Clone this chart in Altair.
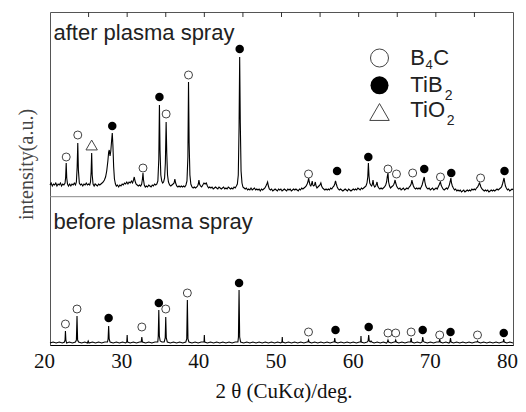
import altair as alt
import pandas as pd

# ---------------- data ----------------
# (2theta [deg], intensity [a.u.] above each pattern's own baseline)
AFTER = [
    (20.0, 2), (20.15, 4), (20.3, 1), (20.45, 3), (20.6, 2), (20.75, 4), (20.9, 1), (21.05, 3), (21.2, 2),
    (21.35, 4), (21.5, 1), (21.65, 3), (21.8, 2), (21.95, 4),
    (22.03, 10), (22.1, 24), (22.17, 9), (22.27, 3), (22.4, 1), (22.55, 3), (22.7, 1), (22.85, 3), (23.0, 2),
    (23.15, 4), (23.3, 2), (23.42, 5),
    (23.52, 20), (23.6, 44), (23.68, 17), (23.8, 4), (23.95, 2), (24.1, 3), (24.25, 1), (24.4, 3), (24.55, 2),
    (24.7, 4), (24.85, 2), (25.0, 3), (25.15, 2), (25.25, 5),
    (25.33, 15), (25.4, 34), (25.47, 12), (25.58, 3), (25.72, 1), (25.85, 3), (26.0, 2), (26.15, 1), (26.3, 3),
    (26.45, 2), (26.6, 3), (26.75, 4), (26.9, 5), (27.05, 7), (27.2, 10), (27.35, 16), (27.5, 26), (27.6, 35),
    (27.68, 37), (27.78, 31), (27.88, 36), (27.98, 46), (28.07, 54), (28.15, 42), (28.25, 20), (28.35, 8),
    (28.48, 3), (28.6, 1), (28.75, 2), (28.9, 0), (29.05, 2), (29.2, 1), (29.35, 3), (29.5, 2), (29.65, 4),
    (29.8, 3), (29.95, 5), (30.1, 3), (30.25, 5), (30.4, 4), (30.55, 6), (30.7, 4), (30.82, 7), (30.92, 10),
    (31.02, 6), (31.15, 3), (31.3, 2), (31.45, 1), (31.6, 2), (31.75, 1), (31.88, 3),
    (31.98, 8), (32.05, 14), (32.12, 7), (32.22, 2), (32.35, 0), (32.5, 1), (32.65, 0), (32.8, 2), (32.95, 1),
    (33.1, 0), (33.25, 2), (33.4, 1), (33.55, 3), (33.7, 2), (33.85, 3), (33.98, 6),
    (34.1, 28), (34.18, 82), (34.26, 36), (34.36, 12), (34.48, 6), (34.6, 4), (34.72, 5), (34.85, 9),
    (34.95, 24), (35.05, 65), (35.13, 34), (35.23, 12), (35.35, 5), (35.5, 2), (35.65, 1), (35.8, 2),
    (35.95, 3), (36.08, 4), (36.18, 8), (36.28, 4), (36.42, 1), (36.57, 0), (36.72, 1), (36.87, 0), (37.02, 1),
    (37.17, 0), (37.32, 1), (37.47, 0), (37.62, 2), (37.75, 6),
    (37.87, 30), (37.95, 105), (38.03, 44), (38.13, 12), (38.25, 3), (38.4, 0), (38.55, -1), (38.7, 0),
    (38.85, -1), (39.0, 0), (39.12, 1), (39.22, 3), (39.3, 7), (39.38, 3), (39.5, 1), (39.65, 0), (39.8, 2),
    (39.95, 4), (40.1, 3), (40.25, 4), (40.4, 1), (40.55, -1), (40.7, 0), (40.85, -1), (41.0, 0), (41.15, -2),
    (41.3, -1), (41.45, 0), (41.6, -1), (41.75, -2), (41.9, 0), (42.05, -1), (42.2, -2), (42.35, -1),
    (42.5, 0), (42.65, -2), (42.8, -1), (42.95, -2), (43.1, 0), (43.25, -1), (43.4, -2), (43.55, -1),
    (43.7, -2), (43.85, 0), (44.0, -1), (44.15, 1), (44.28, 3), (44.4, 12),
    (44.5, 60), (44.58, 130), (44.66, 64), (44.76, 16), (44.88, 4), (45.0, 0), (45.15, -1), (45.3, -2),
    (45.45, -1), (45.6, -3), (45.75, -2), (45.9, -3), (46.05, -1), (46.2, -3), (46.35, -2), (46.5, -1),
    (46.65, -3), (46.8, -2), (46.95, -3), (47.1, -2), (47.25, -4), (47.4, -2), (47.55, -3), (47.7, -2),
    (47.85, -1), (47.98, 1), (48.1, 3), (48.2, 5), (48.3, 1), (48.42, -2), (48.57, -3), (48.72, -2),
    (48.87, -4), (49.02, -3), (49.17, -2), (49.32, -3), (49.47, -4), (49.62, -2), (49.77, -3), (49.92, -2),
    (50.07, -4), (50.22, -3), (50.37, -2), (50.52, -3), (50.67, -4), (50.82, -2), (50.97, -3), (51.12, -2),
    (51.27, -4), (51.42, -3), (51.57, -2), (51.72, -3), (51.87, -2), (52.02, -3), (52.17, -4), (52.32, -2),
    (52.47, -3), (52.62, -1), (52.77, -2), (52.92, -1), (53.07, 0), (53.2, 1), (53.32, 3), (53.42, 5),
    (53.52, 9), (53.6, 5), (53.7, 2), (53.8, 1), (53.9, 3), (53.98, 6), (54.06, 2), (54.18, 1), (54.28, 2),
    (54.38, 5), (54.48, 1), (54.6, -1), (54.72, 0), (54.85, 1), (54.98, 2), (55.1, 4), (55.2, 1), (55.32, -1),
    (55.47, -2), (55.62, -3), (55.77, -2), (55.92, -3), (56.07, -2), (56.22, -3), (56.37, -1), (56.52, -2),
    (56.67, 0), (56.8, 1), (56.9, 3), (57.0, 6), (57.1, 3), (57.22, 0), (57.35, -2), (57.5, -3), (57.65, -2),
    (57.8, -3), (57.95, -4), (58.1, -3), (58.25, -2), (58.4, -3), (58.55, -4), (58.7, -2), (58.85, -3),
    (59.0, -4), (59.15, -3), (59.3, -2), (59.45, -3), (59.6, -2), (59.75, -3), (59.9, -1), (60.05, -2),
    (60.2, -3), (60.35, -1), (60.5, -2), (60.65, -1), (60.8, 0), (60.95, 1), (61.08, 4), (61.18, 10),
    (61.26, 24), (61.34, 11), (61.44, 4), (61.56, 2), (61.68, 1), (61.78, 3), (61.86, 7), (61.95, 2),
    (62.08, 0), (62.2, 1), (62.3, 3), (62.38, 5), (62.47, 1), (62.6, -1), (62.75, -2), (62.9, -1), (63.05, -2),
    (63.2, -1), (63.35, 0), (63.5, 2), (63.62, 5), (63.72, 11), (63.8, 14), (63.88, 5), (64.0, 1), (64.12, -1),
    (64.25, 0), (64.4, 1), (64.52, 2), (64.62, 4), (64.72, 7), (64.8, 4), (64.92, 1), (65.05, -1), (65.2, -2),
    (65.35, -1), (65.5, -3), (65.65, -2), (65.8, -1), (65.95, -3), (66.1, -2), (66.25, -1), (66.4, -2),
    (66.55, 0), (66.68, 1), (66.8, 3), (66.9, 7), (66.98, 4), (67.1, 1), (67.22, -1), (67.37, -2), (67.52, -1),
    (67.67, -2), (67.82, -1), (67.97, -2), (68.1, 0), (68.22, 2), (68.32, 5), (68.42, 8), (68.5, 10),
    (68.58, 5), (68.7, 1), (68.83, -1), (68.98, -2), (69.13, -1), (69.28, -3), (69.43, -2), (69.58, -1),
    (69.73, -3), (69.88, -2), (70.03, -1), (70.18, -2), (70.3, 0), (70.42, 2), (70.52, 4), (70.6, 5),
    (70.68, 2), (70.8, 0), (70.93, -2), (71.08, -3), (71.23, -2), (71.38, -1), (71.52, -2), (71.65, 0),
    (71.75, 2), (71.85, 5), (71.95, 9), (72.03, 4), (72.14, 1), (72.27, -1), (72.42, -3), (72.57, -2),
    (72.72, -4), (72.87, -3), (73.02, -4), (73.17, -3), (73.32, -5), (73.47, -4), (73.62, -3), (73.77, -5),
    (73.92, -4), (74.07, -3), (74.22, -4), (74.37, -3), (74.52, -4), (74.67, -2), (74.82, -3), (74.97, -2),
    (75.12, -3), (75.27, -1), (75.42, 0), (75.54, 2), (75.64, 4), (75.72, 3), (75.84, 0), (75.98, -2),
    (76.13, -3), (76.28, -4), (76.43, -3), (76.58, -4), (76.73, -3), (76.88, -5), (77.03, -4), (77.18, -3),
    (77.33, -4), (77.48, -3), (77.63, -4), (77.78, -3), (77.93, -2), (78.08, -3), (78.23, -2), (78.38, -1),
    (78.52, 0), (78.64, 3), (78.74, 6), (78.84, 9), (78.92, 5), (79.02, 1), (79.14, -1), (79.28, -3),
    (79.43, -2), (79.58, -4), (79.73, -3), (79.88, -2), (80.0, -3),
]

BEFORE = [
    (20.0, 0), (20.4, 1), (20.8, 0), (21.2, 1), (21.6, 0), (21.88, 1), (21.95, 3), (22.0, 12), (22.06, 3),
    (22.15, 0), (22.5, 1), (22.9, 0), (23.3, 1), (23.42, 3), (23.5, 27), (23.58, 3), (23.7, 1), (24.1, 0),
    (24.5, 1), (24.85, 0), (24.95, 2), (25.05, 0), (25.5, 1), (25.9, 0), (26.3, 1), (26.7, 0), (27.1, 1),
    (27.45, 1), (27.53, 4), (27.6, 17), (27.67, 4), (27.78, 1), (28.2, 0), (28.6, 1), (29.0, 0), (29.4, 1),
    (29.8, 0), (29.95, 1), (30.0, 8), (30.05, 1), (30.4, 0), (30.8, 1), (31.2, 0), (31.6, 1), (31.82, 1),
    (31.9, 6), (31.98, 1), (32.4, 0), (32.8, 1), (33.2, 0), (33.6, 1), (33.97, 1), (34.03, 7), (34.1, 33),
    (34.17, 7), (34.28, 2), (34.5, 1), (34.8, 1), (34.93, 5), (35.0, 26), (35.07, 5), (35.2, 1), (35.6, 0),
    (36.0, 1), (36.4, 0), (36.8, 1), (37.2, 0), (37.6, 1), (37.72, 4), (37.8, 43), (37.88, 4), (38.0, 1),
    (38.4, 0), (38.8, 1), (39.2, 0), (39.6, 1), (39.96, 1), (40.0, 8), (40.04, 1), (40.4, 0), (40.8, 1),
    (41.2, 0), (41.6, 1), (42.0, 0), (42.4, 1), (42.8, 0), (43.2, 1), (43.6, 0), (44.0, 1), (44.35, 1),
    (44.42, 6), (44.5, 53), (44.58, 6), (44.7, 1), (45.1, 0), (45.5, 1), (45.9, 0), (46.3, 1), (46.7, 0),
    (47.1, 1), (47.5, 0), (47.9, 1), (48.3, 0), (48.7, 1), (49.1, 0), (49.5, 1), (49.9, 0), (50.06, 1),
    (50.1, 6), (50.14, 1), (50.5, 0), (50.9, 1), (51.3, 0), (51.7, 1), (52.1, 0), (52.5, 1), (52.9, 0),
    (53.3, 1), (53.42, 1), (53.5, 3), (53.58, 1), (53.9, 0), (54.3, 1), (54.7, 0), (55.1, 1), (55.5, 0),
    (55.9, 1), (56.3, 0), (56.7, 1), (56.83, 1), (56.9, 5), (56.97, 1), (57.3, 0), (57.7, 1), (58.1, 0),
    (58.5, 1), (58.9, 0), (59.3, 1), (59.7, 0), (60.1, 1), (60.26, 1), (60.3, 7), (60.34, 1), (60.7, 0),
    (61.1, 1), (61.22, 2), (61.3, 8), (61.38, 2), (61.5, 1), (61.6, 2), (61.7, 1), (62.0, 0), (62.4, 1),
    (62.8, 0), (63.2, 1), (63.6, 0), (63.72, 1), (63.8, 3), (63.88, 1), (64.2, 0), (64.6, 1), (64.72, 1),
    (64.8, 3), (64.88, 1), (65.2, 0), (65.6, 1), (66.0, 0), (66.4, 1), (66.72, 1), (66.8, 5), (66.88, 1),
    (67.2, 0), (67.6, 1), (68.0, 0), (68.22, 1), (68.3, 6), (68.38, 2), (68.5, 1), (68.9, 0), (69.3, 1),
    (69.7, 0), (70.1, 1), (70.42, 1), (70.5, 4), (70.58, 1), (70.9, 0), (71.3, 1), (71.7, 0), (71.82, 1),
    (71.9, 5), (71.98, 1), (72.3, 0), (72.7, 1), (73.1, 0), (73.5, 1), (73.9, 0), (74.3, 1), (74.7, 0),
    (75.1, 1), (75.32, 1), (75.4, 2), (75.48, 1), (75.8, 0), (76.2, 1), (76.6, 0), (77.0, 1), (77.4, 0),
    (77.8, 1), (78.2, 0), (78.6, 1), (78.72, 1), (78.8, 4), (78.88, 1), (79.2, 0), (79.6, 1), (80.0, 0),
]

# phase marks (2theta, intensity of the mark above baseline)
AFTER_B4C = [(22.1, 30), (23.6, 52), (32.05, 19), (35.05, 73), (37.95, 112), (53.5, 13), (63.8, 18),
             (64.9, 13), (67.0, 14), (70.6, 10), (75.8, 9)]
AFTER_TIB2 = [(28.07, 61), (34.18, 90), (44.58, 138), (57.2, 16), (61.25, 30), (68.5, 18), (72.0, 14),
              (78.9, 16)]
AFTER_TIO2 = [(25.4, 42)]
BEFORE_B4C = [(22.0, 19), (23.5, 34), (31.9, 16), (35.0, 34), (37.8, 50), (53.5, 11), (63.8, 10),
              (64.8, 10), (66.8, 11), (70.5, 8), (75.4, 8)]
BEFORE_TIB2 = [(27.6, 25), (34.1, 40), (44.5, 60), (57.0, 13), (61.3, 16), (68.3, 13), (71.9, 11),
               (78.8, 10)]

X_TICK_LABELS = [20, 30, 40, 50, 60, 70, 80]
TOP_TICKS = [25, 30, 35, 40, 45, 50, 55, 60, 65, 70, 75]
PANEL_TITLES = ["after plasma spray", "before plasma spray"]
LEGEND_MAIN = ["B", "TiB", "TiO"]
LEGEND_SUB = ["4", "2", "2"]
LEGEND_TAIL = ["C", "", ""]

# ---------------- layout constants ----------------
W, H = 463, 333
PAD_L, PAD_R = 42, 5
AFTER_OFFSET = 158
BEFORE_OFFSET = 2
DIVIDER = 148.3
YMAX = 333

xs = alt.Scale(domain=[20, 80], nice=False, zero=False)
ys = alt.Scale(domain=[0, YMAX], nice=False, zero=False)


def pts(rows, offset):
    return pd.DataFrame([{"theta": a, "v": b + offset} for a, b in rows])


X_AXIS = alt.Axis(
    values=X_TICK_LABELS, format="d", ticks=False, tickSize=0, grid=False,
    labelFont="Liberation Serif", labelFontSize=21, labelColor="#111",
    labelBaseline="alphabetic", labelPadding=22, labelOffset=-6, labelFlush=False,
    domainColor="#000", domainWidth=1,
    title="2 θ (CuKα)/deg.", titleFont="Liberation Serif", titleFontSize=21,
    titleFontWeight="normal", titleColor="#111", titleBaseline="alphabetic",
    titleX=W / 2 + 2, titleY=52, titleAnchor="middle", titleAlign="center",
)
Y_AXIS = alt.Axis(
    labels=False, ticks=False, domain=False, grid=False,
    title="intensity(a.u.)", titleFont="Liberation Serif", titleFontSize=20,
    titleFontWeight="normal", titleColor="#444", titleAngle=270,
    titleBaseline="alphabetic", titleAlign="center", titleX=-18, titleY=152,
)


def X(field):
    return alt.X(field, scale=xs, axis=X_AXIS)


def Y(field):
    return alt.Y(field, scale=ys, axis=Y_AXIS)


after_line = alt.Chart(pts(AFTER, AFTER_OFFSET)).mark_line(color="black", strokeWidth=1.1).encode(
    x=X("theta:Q"), y=Y("v:Q"),
)
before_line = alt.Chart(pts(BEFORE, BEFORE_OFFSET)).mark_line(color="black", strokeWidth=1.1).encode(
    x=X("theta:Q"), y=Y("v:Q"),
)


def marks(df, shape, filled, size):
    if filled:
        m = alt.Chart(df).mark_point(shape=shape, filled=True, color="black", size=size, opacity=1)
    else:
        m = alt.Chart(df).mark_point(shape=shape, filled=False, fill="white", stroke="#444",
                                     strokeWidth=1, size=size, opacity=1)
    return m.encode(x=X("theta:Q"), y=Y("v:Q"))


divider = alt.Chart(pd.DataFrame({"v": [DIVIDER]})).mark_rule(color="#888", strokeWidth=1).encode(
    y=Y("v:Q"), x=alt.value(0), x2=alt.value(W)
)
top_ticks = alt.Chart(pd.DataFrame({"theta": TOP_TICKS})).mark_rule(color="#333", strokeWidth=1).encode(
    x=X("theta:Q"), y=alt.value(0), y2=alt.value(5)
)

panel_text = alt.Chart(
    pd.DataFrame({"theta": [20.45, 20.45], "v": [305, 115.7], "t": PANEL_TITLES})
).mark_text(
    align="left", baseline="alphabetic", font="Liberation Sans", fontSize=22, color="#222"
).encode(x=X("theta:Q"), y=Y("v:Q"), text="t:N")

# legend
LEG_SYM_X = 62.7
LEG_SYM_Y = [287, 259.7, 233]
LEG_TXT_X = 66.7
LEG_TXT_Y = [280, 253, 228.5]

leg_open = marks(pd.DataFrame({"theta": [LEG_SYM_X], "v": [LEG_SYM_Y[0]]}), "circle", False, 324)
leg_fill = marks(pd.DataFrame({"theta": [LEG_SYM_X], "v": [LEG_SYM_Y[1]]}), "circle", True, 324)
leg_tri = marks(pd.DataFrame({"theta": [LEG_SYM_X], "v": [LEG_SYM_Y[2]]}), "triangle-up", False, 380)


def legend_text(i, txt, dx, dy, size):
    df = pd.DataFrame({"theta": [LEG_TXT_X], "v": [LEG_TXT_Y[i]], "t": [txt]})
    return alt.Chart(df).mark_text(
        align="left", baseline="alphabetic", font="Liberation Sans", fontSize=size,
        color="#222", dx=dx, dy=dy
    ).encode(x=X("theta:Q"), y=Y("v:Q"), text="t:N")


legend_layers = [
    legend_text(0, LEGEND_MAIN[0], 0, 0, 22),
    legend_text(0, LEGEND_SUB[0], 15.2, 4, 13),
    legend_text(0, LEGEND_TAIL[0], 23, 0, 22),
    legend_text(1, LEGEND_MAIN[1], 0, 0, 22),
    legend_text(1, LEGEND_SUB[1], 34.5, 8, 14),
    legend_text(2, LEGEND_MAIN[2], 0, 0, 22),
    legend_text(2, LEGEND_SUB[2], 36.5, 8, 14),
]

chart = alt.layer(
    after_line, before_line, divider, top_ticks,
    marks(pts(AFTER_B4C, AFTER_OFFSET), "circle", False, 64),
    marks(pts(AFTER_TIB2, AFTER_OFFSET), "circle", True, 72),
    marks(pts(AFTER_TIO2, AFTER_OFFSET), "triangle-up", False, 130),
    marks(pts(BEFORE_B4C, BEFORE_OFFSET), "circle", False, 64),
    marks(pts(BEFORE_TIB2, BEFORE_OFFSET), "circle", True, 72),
    panel_text, leg_open, leg_fill, leg_tri, *legend_layers,
).properties(
    width=W, height=H,
    autosize=alt.AutoSizeParams(type="none"),
    padding={"left": PAD_L, "top": 4, "right": PAD_R, "bottom": 58},
    background="white",
).configure_view(stroke="#555", strokeWidth=1)

chart.save("out.html", embed_options={"renderer": "svg", "actions": False})
